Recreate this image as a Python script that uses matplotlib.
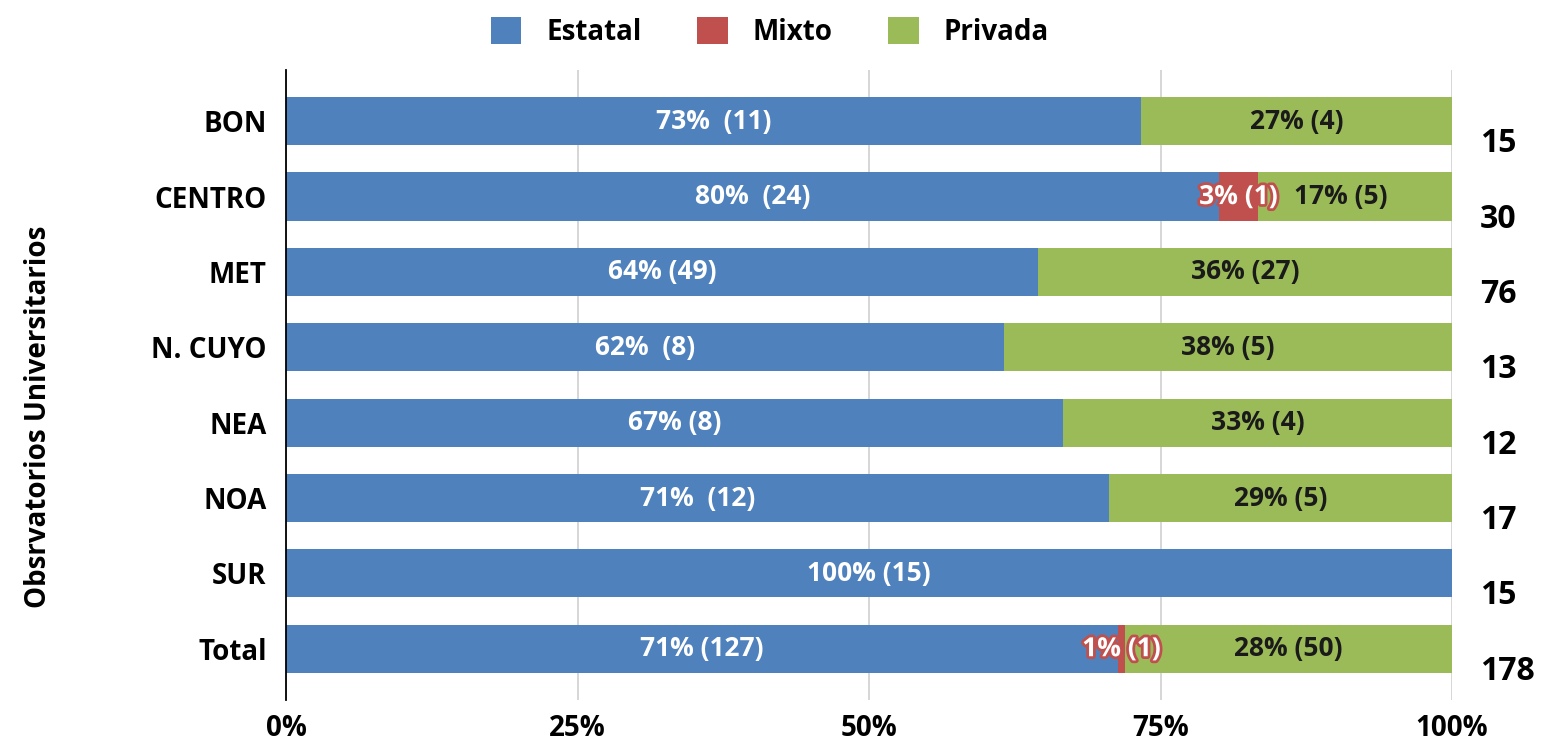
import matplotlib
matplotlib.use("Agg")
import matplotlib.pyplot as plt
import matplotlib.patheffects as pe
from matplotlib.transforms import blended_transform_factory

# ---------------------------------------------------------------------------
# Data
# ---------------------------------------------------------------------------
regions = ["BON", "CENTRO", "MET", "N. CUYO", "NEA", "NOA", "SUR", "Total"]
estatal = [11, 24, 49, 8, 8, 12, 15, 127]
mixto = [0, 1, 0, 0, 0, 0, 0, 1]
privada = [4, 5, 27, 5, 4, 5, 0, 50]
totals = [15, 30, 76, 13, 12, 17, 15, 178]

estatal_labels = ["73%  (11)", "80%  (24)", "64% (49)", "62%  (8)",
                  "67% (8)", "71%  (12)", "100% (15)", "71% (127)"]
mixto_labels = ["", "3% (1)", "", "", "", "", "", "1% (1)"]
privada_labels = ["27% (4)", "17% (5)", "36% (27)", "38% (5)",
                  "33% (4)", "29% (5)", "", "28% (50)"]
x_ticks = [0, 25, 50, 75, 100]
x_ticklabels = ["0%", "25%", "50%", "75%", "100%"]

BLUE = "#4F81BD"
RED = "#C0504D"
GREEN = "#9BBB59"

plt.rcParams["font.family"] = ["Open Sans", "DejaVu Sans"]

fig = plt.figure(figsize=(15.41, 7.5), dpi=100)
ax = fig.add_axes([0.1856, 0.0667, 0.7567, 0.84])

pct_e = [100 * e / t for e, t in zip(estatal, totals)]
pct_m = [100 * m / t for m, t in zip(mixto, totals)]
pct_p = [100 * p / t for p, t in zip(privada, totals)]
left_m = pct_e
left_p = [a + b for a, b in zip(pct_e, pct_m)]

y = list(range(len(regions)))
h = 0.64
ax.barh(y, pct_e, height=h, color=BLUE, label="Estatal")
ax.barh(y, pct_m, left=left_m, height=h, color=RED, label="Mixto")
ax.barh(y, pct_p, left=left_p, height=h, color=GREEN, label="Privada")

for i in y:
    ax.text(pct_e[i] / 2, i, estatal_labels[i], ha="center", va="center",
            color="white", fontsize=19, fontweight="bold")
    if mixto_labels[i]:
        ax.text(left_m[i] + pct_m[i] / 2, i, mixto_labels[i], ha="center",
                va="center", color="white", fontsize=19, fontweight="bold",
                path_effects=[pe.withStroke(linewidth=4, foreground=RED)])
    if privada_labels[i]:
        ax.text(left_p[i] + pct_p[i] / 2 - (1.2 if i == 1 else 0), i,
                privada_labels[i], ha="center", va="center",
                color="#1a1a1a", fontsize=19, fontweight="bold")

trans = blended_transform_factory(ax.transAxes, ax.transData)
for i in y:
    ax.text(1.024, i + 0.3, str(totals[i]), transform=trans, ha="left",
            va="center", fontsize=23, fontweight="bold", color="black")

ax.set_xlim(0, 100)
ax.set_ylim(len(regions) - 1 + 0.68, -0.68)
ax.set_yticks(y)
ax.set_yticklabels(regions, fontsize=20, fontweight="bold")
ax.set_xticks(x_ticks)
ax.set_xticklabels(x_ticklabels, fontsize=20, fontweight="bold")
ax.tick_params(axis="both", length=0)
ax.tick_params(axis="y", pad=14)
ax.tick_params(axis="x", pad=10)

for s in ["top", "right", "bottom"]:
    ax.spines[s].set_visible(False)
ax.spines["left"].set_color("black")
ax.spines["left"].set_linewidth(1.3)
ax.set_axisbelow(True)
ax.grid(axis="x", color="#d0d0d0", linewidth=1.2)

ax.set_ylabel("Obsrvatorios Universitarios", fontsize=20, fontweight="bold")
ax.yaxis.set_label_coords(-0.2, 0.45)

ax.legend(loc="center", bbox_to_anchor=(0.415, 1.06), ncol=3,
          frameon=False, prop={"size": 20, "weight": "bold"},
          handlelength=1.1, handleheight=1.1, columnspacing=2.0,
          handletextpad=0.9)

fig.savefig("out.png", dpi=100)
